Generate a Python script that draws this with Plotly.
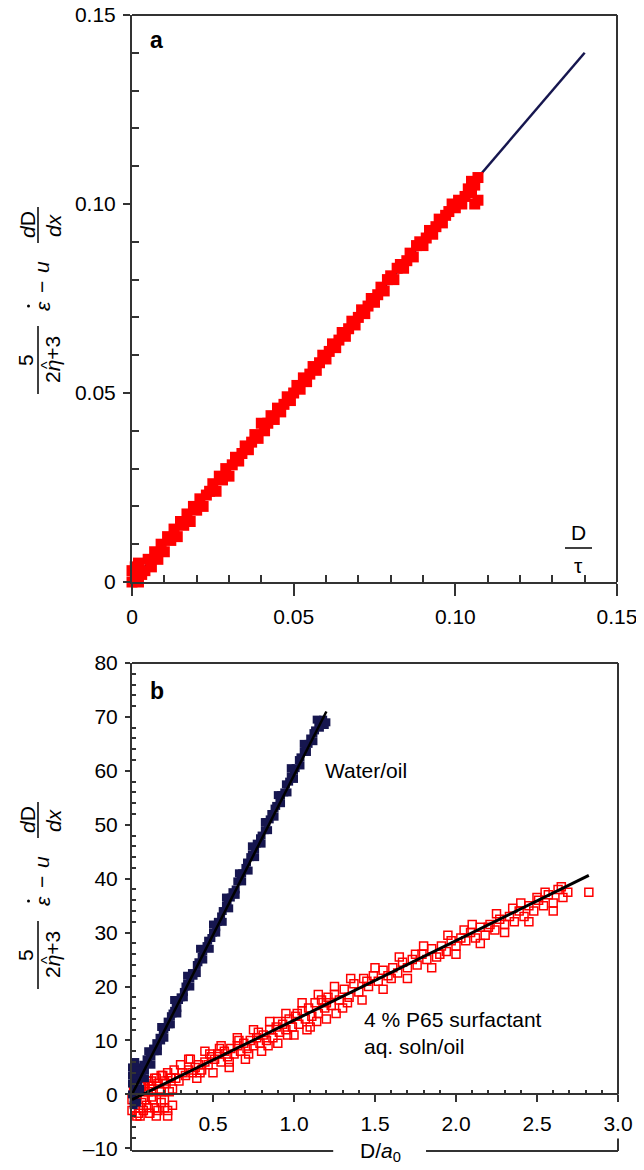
import plotly.graph_objects as go

# The page body has an 8px margin, so the figure is sized to fit inside it and all
# screen-pixel positions below are shifted by that offset.
OFF = 8
W, H = 644 - OFF, 1170 - OFF

# ---------------- Panel a data ----------------
a_fit_x = [0.0, 0.14]
a_fit_y = [0.0, 0.14]
a_red_x = [0.000, 0.000, 0.001, 0.002, 0.001, 0.003, 0.002, 0.004, 0.005, 0.006, 0.007, 0.008,
           0.009, 0.010, 0.011, 0.012, 0.013, 0.014, 0.015, 0.016, 0.017, 0.018, 0.019, 0.020,
           0.021, 0.022, 0.023, 0.024, 0.025, 0.026, 0.027, 0.028, 0.029, 0.030, 0.031, 0.032,
           0.033, 0.034, 0.035, 0.036, 0.037, 0.038, 0.039, 0.040, 0.041, 0.042, 0.043, 0.044,
           0.045, 0.046, 0.047, 0.048, 0.049, 0.050, 0.051, 0.052, 0.053, 0.054, 0.055, 0.056,
           0.057, 0.058, 0.059, 0.060, 0.061, 0.062, 0.063, 0.064, 0.065, 0.066, 0.067, 0.068,
           0.069, 0.070, 0.071, 0.072, 0.073, 0.074, 0.075, 0.076, 0.077, 0.078, 0.079, 0.080,
           0.081, 0.082, 0.083, 0.084, 0.085, 0.086, 0.087, 0.088, 0.089, 0.090, 0.091, 0.092,
           0.093, 0.094, 0.095, 0.096, 0.097, 0.098, 0.099, 0.100, 0.101, 0.102, 0.103, 0.104,
           0.105, 0.105, 0.106, 0.107, 0.107, 0.106]
a_red_y = [0.000, 0.003, 0.001, 0.000, 0.004, 0.002, 0.005, 0.003, 0.006, 0.004, 0.008, 0.006,
           0.010, 0.008, 0.012, 0.011, 0.014, 0.012, 0.016, 0.015, 0.018, 0.016, 0.020, 0.019,
           0.022, 0.020, 0.023, 0.024, 0.026, 0.024, 0.028, 0.027, 0.030, 0.028, 0.031, 0.033,
           0.032, 0.034, 0.036, 0.035, 0.037, 0.039, 0.038, 0.042, 0.040, 0.042, 0.044, 0.043,
           0.046, 0.045, 0.047, 0.049, 0.048, 0.050, 0.052, 0.051, 0.054, 0.053, 0.055, 0.057,
           0.056, 0.058, 0.060, 0.059, 0.061, 0.063, 0.062, 0.064, 0.066, 0.065, 0.067, 0.069,
           0.068, 0.070, 0.072, 0.071, 0.073, 0.075, 0.074, 0.076, 0.078, 0.077, 0.080, 0.081,
           0.080, 0.083, 0.084, 0.083, 0.085, 0.087, 0.086, 0.089, 0.090, 0.089, 0.091, 0.093,
           0.092, 0.094, 0.096, 0.095, 0.097, 0.098, 0.100, 0.099, 0.101, 0.100, 0.102, 0.104,
           0.103, 0.106, 0.105, 0.107, 0.101, 0.100]

a_xtick_vals = [0, 0.05, 0.10, 0.15]
a_xtick_text = ["0", "0.05", "0.10", "0.15"]
a_ytick_vals = [0, 0.05, 0.10, 0.15]
a_ytick_text = ["0", "0.05", "0.10", "0.15"]
a_minor_vals = [0.01, 0.02, 0.03, 0.04, 0.06, 0.07, 0.08, 0.09, 0.11, 0.12, 0.13, 0.14]

# ---------------- Panel b data ----------------
b_water_fit_x = [0.0, 1.2]
b_water_fit_y = [0.0, 71.0]
b_water_x = [0.00, 0.00, 0.01, 0.01, 0.02, 0.02, 0.03, 0.03, 0.04, 0.05, 0.06, 0.07, 0.08, 0.09,
             0.10, 0.11, 0.12, 0.13, 0.14, 0.15, 0.16, 0.17, 0.18, 0.19, 0.20, 0.21, 0.22, 0.23,
             0.24, 0.25, 0.26, 0.27, 0.28, 0.29, 0.30, 0.32, 0.33, 0.34, 0.36, 0.37, 0.38, 0.40,
             0.41, 0.43, 0.44, 0.46, 0.47, 0.49, 0.50, 0.52, 0.53, 0.55, 0.56, 0.58, 0.59, 0.61,
             0.62, 0.64, 0.65, 0.67, 0.68, 0.70, 0.71, 0.73, 0.74, 0.76, 0.77, 0.79, 0.80, 0.82,
             0.83, 0.85, 0.86, 0.88, 0.89, 0.91, 0.92, 0.94, 0.95, 0.97, 0.98, 1.00, 1.01, 1.03,
             1.04, 1.06, 1.07, 1.09, 1.10, 1.12, 1.13, 1.15, 1.16, 1.18, 1.19,
             0.05, 0.08, 0.12, 0.16, 0.20, 0.24, 0.28, 0.32, 0.36, 0.40, 0.44, 0.48, 0.52, 0.56,
             0.60, 0.64, 0.68, 0.72, 0.76, 0.80, 0.84, 0.88, 0.92, 0.96, 1.00, 1.04, 1.08, 1.12,
             1.16, 1.20,
             0.04, 0.10, 0.18, 0.26, 0.34, 0.42, 0.50, 0.58, 0.66, 0.74, 0.82, 0.90, 0.98, 1.06,
             1.14, 0.00, 0.01, 0.02, 0.00, 0.03]
b_water_y = [0.0, 2.0, 4.0, -1.0, 1.0, 3.0, 0.5, 5.0, 2.5, 4.0, 3.5, 5.5, 4.5, 6.5,
             6.0, 7.5, 7.0, 8.5, 8.0, 9.5, 9.0, 10.5, 10.0, 11.5, 12.0, 12.5, 13.5, 13.0,
             14.5, 15.0, 15.5, 16.5, 16.0, 17.5, 18.0, 19.0, 20.0, 20.5, 21.5, 22.5, 22.0, 24.0,
             24.5, 25.5, 26.5, 27.5, 28.5, 29.0, 30.0, 31.0, 32.0, 33.0, 34.0, 35.0, 35.5, 36.5,
             37.5, 38.0, 39.5, 40.0, 41.0, 42.0, 43.0, 44.0, 44.5, 45.5, 46.5, 47.5, 48.0, 49.0,
             50.5, 51.0, 52.0, 53.0, 53.5, 54.5, 55.5, 56.0, 57.5, 58.0, 59.0, 60.0, 60.5, 62.0,
             62.5, 63.5, 64.5, 65.0, 66.0, 67.0, 67.5, 68.5, 69.0, 69.5, 68.5,
             1.0, 3.0, 5.5, 8.0, 10.5, 13.0, 15.0, 18.0, 20.0, 22.5, 25.0, 27.0, 30.0, 32.0,
             34.5, 37.0, 39.5, 41.5, 44.0, 46.5, 49.0, 51.5, 54.0, 56.0, 58.5, 61.0, 63.5, 65.5,
             68.0, 69.0,
             4.5, 8.0, 12.5, 17.5, 22.0, 27.0, 31.5, 36.5, 41.0, 46.0, 50.5, 55.5, 60.5, 65.0,
             69.5, 5.0, -2.0, 6.0, 3.5, -1.5]

b_surf_fit_x = [0.0, 2.82]
b_surf_fit_y = [-1.0, 40.6]
b_surf_x = [0.00, 0.00, 0.01, 0.02, 0.03, 0.04, 0.05, 0.06, 0.07, 0.08, 0.09, 0.10, 0.11, 0.12,
            0.13, 0.14, 0.15, 0.16, 0.17, 0.18, 0.19, 0.20, 0.21, 0.22, 0.23, 0.24, 0.25,
            0.06, 0.08, 0.10, 0.12, 0.14, 0.16, 0.18, 0.20, 0.22, 0.24, 0.26,
            0.27, 0.29, 0.31, 0.33, 0.35, 0.37, 0.39, 0.41, 0.43, 0.45, 0.47, 0.49, 0.51, 0.53,
            0.55, 0.57, 0.59, 0.61, 0.63, 0.65, 0.67, 0.69, 0.71, 0.73, 0.75, 0.77, 0.79, 0.81,
            0.83, 0.85, 0.87, 0.89, 0.91, 0.93, 0.95, 0.97, 0.99, 1.01, 1.03, 1.05, 1.07, 1.09,
            1.11, 1.13, 1.15, 1.17, 1.19, 1.21, 1.23, 1.25, 1.28, 1.31, 1.34, 1.37, 1.40, 1.43,
            1.46, 1.49, 1.52, 1.55, 1.58, 1.61, 1.64, 1.67, 1.70, 1.73, 1.76, 1.79, 1.82, 1.85,
            1.88, 1.91, 1.94, 1.97, 2.00, 2.03, 2.06, 2.09, 2.12, 2.15, 2.18, 2.21, 2.24, 2.27,
            2.30, 2.33, 2.36, 2.39, 2.42, 2.45, 2.48, 2.51, 2.54, 2.57, 2.60, 2.63, 2.66, 2.69,
            2.82,
            0.30, 0.36, 0.42, 0.48, 0.54, 0.60, 0.66, 0.72, 0.78, 0.84, 0.90, 0.96, 1.02, 1.08,
            1.14, 1.20, 1.26, 1.33, 1.45, 1.60, 1.75, 1.90, 2.05, 2.20, 2.35, 2.50,
            0.35, 0.45, 0.55, 0.65, 0.75, 0.85, 0.95, 1.05, 1.15, 1.25, 1.35, 1.50, 1.65, 1.80,
            1.95, 2.10, 2.25, 2.40, 2.55, 2.65,
            0.40, 0.50, 0.60, 0.70, 0.80, 0.90, 1.00, 1.10, 1.20, 1.30, 1.42, 1.55, 1.70, 1.85,
            2.00, 2.15, 2.30, 2.45, 2.60,
            0.05, 0.10, 0.15, 0.20, 0.25, 0.12, 0.18, 0.22, 0.08, 0.03]
b_surf_y = [-3.0, -1.0, 1.0, -2.5, 0.0, -3.5, 2.0, -1.5, -3.0, 1.5, -2.0, 0.5, -3.5, 2.5,
            -1.0, -2.5, 3.0, -3.0, 1.0, -1.5, 3.5, -2.5, 2.0, -3.0, 0.5, 3.0, -2.0,
            1.5, 2.0, 2.5, 1.5, 3.0, 2.0, 3.5, 2.5, 4.0, 3.0, 4.5,
            3.0, 2.5, 4.0, 3.5, 4.5, 4.0, 5.0, 5.5, 4.5, 6.0, 5.5, 7.0, 6.5, 7.5,
            6.0, 8.0, 7.0, 8.5, 7.5, 9.0, 8.0, 9.5, 8.5, 10.0, 9.0, 10.5, 9.5, 11.0,
            10.0, 12.0, 10.5, 12.5, 11.5, 13.0, 12.0, 14.0, 12.5, 14.5, 13.0, 15.5, 14.0, 16.0,
            14.5, 17.0, 15.0, 17.5, 16.0, 18.0, 16.5, 18.5, 17.5, 19.5, 18.0, 20.5, 19.0, 21.5,
            20.0, 22.0, 21.0, 23.0, 22.0, 23.5, 22.5, 24.5, 23.5, 25.0, 24.0, 26.0, 25.0, 27.0,
            25.5, 27.5, 26.5, 28.5, 27.5, 29.0, 28.5, 30.0, 29.0, 31.0, 29.5, 31.5, 30.5, 32.5,
            31.5, 33.0, 32.0, 34.0, 33.0, 35.0, 34.0, 36.0, 35.0, 37.0, 35.5, 38.0, 36.5, 37.5,
            37.5,
            5.5, 6.5, 4.0, 7.5, 8.5, 6.0, 10.0, 7.5, 11.5, 9.0, 13.5, 11.0, 15.0, 12.0,
            13.5, 17.0, 15.0, 17.0, 21.0, 21.5, 26.0, 26.0, 30.5, 31.0, 34.5, 36.5,
            6.5, 8.0, 9.0, 10.5, 12.0, 13.5, 15.0, 17.0, 18.5, 20.0, 21.5, 23.5, 25.5, 27.5,
            29.5, 31.5, 33.5, 35.5, 37.5, 38.5,
            3.0, 4.0, 5.0, 6.5, 8.0, 9.5, 11.0, 12.5, 14.0, 16.0, 17.5, 19.5, 21.5, 23.5,
            26.0, 28.0, 30.0, 32.0, 34.0,
            -4.0, -2.5, -4.0, -1.0, 1.0, -0.5, 0.5, -4.0, -1.0, -4.0]

b_xtick_vals = [0.5, 1.0, 1.5, 2.0, 2.5, 3.0]
b_xtick_text = ["0.5", "1.0", "1.5", "2.0", "2.5", "3.0"]
b_ytick_vals = [-10, 0, 10, 20, 30, 40, 50, 60, 70, 80]
b_ytick_text = ["\u201310", "0", "10", "20", "30", "40", "50", "60", "70", "80"]
b_xminor_vals = [round(0.1 * i, 1) for i in range(1, 30) if i % 5 != 0]
b_yminor_vals = [v for v in range(-10, 81, 2) if v % 10 != 0]

# ---------------- layout geometry ----------------
FONT = "Liberation Sans, Arial, sans-serif"
AXC = "#333333"
RED = "#ff0000"
NAVY = "#16164f"
FS = 21


def px(x):
    return (x - OFF) / W


def py(y):
    return 1 - (y - OFF) / H


a_xdom = [px(132), px(617)]
a_ydom = [py(582), py(15)]
b_xdom = [px(132), px(618)]
b_ydom = [py(1151), py(663)]
a_range = [0, 0.15]
b_xrange = [0, 3.0]
b_yrange = [-10.5, 80]
b_xaxis_pos = b_ydom[0] + (0 - b_yrange[0]) / (b_yrange[1] - b_yrange[0]) * (b_ydom[1] - b_ydom[0])

fig = go.Figure()

# Panel a traces
fig.add_trace(go.Scatter(x=a_fit_x, y=a_fit_y, mode="lines",
                         line=dict(color=NAVY, width=2.5), xaxis="x", yaxis="y"))
fig.add_trace(go.Scatter(x=a_red_x, y=a_red_y, mode="markers",
                         marker=dict(symbol="square", size=11, color=RED, line=dict(width=0)),
                         cliponaxis=False, xaxis="x", yaxis="y"))

# Panel b traces
fig.add_trace(go.Scatter(x=b_surf_x, y=b_surf_y, mode="markers",
                         marker=dict(symbol="square-open", size=8, color=RED, line=dict(width=1.5, color=RED)),
                         cliponaxis=False, xaxis="x2", yaxis="y2"))
fig.add_trace(go.Scatter(x=b_water_x, y=b_water_y, mode="markers",
                         marker=dict(symbol="square", size=8, color=NAVY, line=dict(width=0)),
                         cliponaxis=False, xaxis="x2", yaxis="y2"))
fig.add_trace(go.Scatter(x=b_surf_fit_x, y=b_surf_fit_y, mode="lines",
                         line=dict(color="black", width=3), xaxis="x2", yaxis="y2"))
fig.add_trace(go.Scatter(x=b_water_fit_x, y=b_water_fit_y, mode="lines",
                         line=dict(color="black", width=2.5), xaxis="x2", yaxis="y2"))

# empty traces so the overlay (minor-tick) axes get drawn
fig.add_trace(go.Scatter(x=[], y=[], xaxis="x3", yaxis="y3", hoverinfo="skip"))
fig.add_trace(go.Scatter(x=[], y=[], xaxis="x4", yaxis="y4", hoverinfo="skip"))

tickfont = dict(family=FONT, size=FS, color="black")
common = dict(showline=True, linecolor=AXC, linewidth=2, showgrid=False, zeroline=False,
              tickmode="array", tickwidth=2, tickcolor=AXC, tickfont=tickfont, automargin=False,
              ticklabeloverflow="allow")
minor_common = dict(showline=False, showgrid=False, zeroline=False, tickmode="array",
                    ticks="inside", tickwidth=1.5, tickcolor=AXC, showticklabels=False,
                    automargin=False)

fig.update_layout(
    width=W, height=H,
    margin=dict(l=0, r=0, t=0, b=0, pad=0, autoexpand=False),
    paper_bgcolor="white", plot_bgcolor="white",
    showlegend=False,
    font=dict(family=FONT, size=FS, color="black"),
    xaxis=dict(domain=a_xdom, range=a_range, anchor="y",
               tickvals=a_xtick_vals, ticktext=a_xtick_text,
               ticks="outside", ticklen=12, ticklabelstandoff=3, **common),
    yaxis=dict(domain=a_ydom, range=a_range, anchor="x",
               tickvals=a_ytick_vals, ticktext=a_ytick_text,
               ticks="outside", ticklen=7, ticklabelstandoff=3, **common),
    xaxis3=dict(overlaying="x", range=a_range, anchor="y3", tickvals=a_minor_vals,
                ticklen=7, **minor_common),
    yaxis3=dict(overlaying="y", range=a_range, anchor="x3", tickvals=a_minor_vals,
                ticklen=7, **minor_common),
    xaxis2=dict(domain=b_xdom, range=b_xrange, anchor="free", position=b_xaxis_pos,
                tickvals=b_xtick_vals, ticktext=b_xtick_text,
                ticks="outside", ticklen=7, ticklabelstandoff=3, **common),
    yaxis2=dict(domain=b_ydom, range=b_yrange, anchor="x2",
                tickvals=b_ytick_vals, ticktext=b_ytick_text,
                ticks="outside", ticklen=5, ticklabelstandoff=3, **common),
    xaxis4=dict(overlaying="x2", range=b_xrange, anchor="free", position=b_xaxis_pos,
                tickvals=b_xminor_vals, ticklen=4, **minor_common),
    yaxis4=dict(overlaying="y2", range=b_yrange, anchor="x4", tickvals=b_yminor_vals,
                ticklen=4, **minor_common),
)

shapes = []
ln = dict(color=AXC, width=2)
# Panel a frame (top and right)
shapes.append(dict(type="line", xref="x domain", yref="y domain", x0=0, x1=1, y0=1, y1=1, line=ln))
shapes.append(dict(type="line", xref="x domain", yref="y domain", x0=1, x1=1, y0=0, y1=1, line=ln))
# Panel b frame (top, broken right side, broken bottom)
shapes.append(dict(type="line", xref="x2 domain", yref="y2 domain", x0=0, x1=1, y0=1, y1=1, line=ln))
shapes.append(dict(type="line", xref="x2 domain", yref="y2", x0=1, x1=1, y0=0, y1=80, line=ln))
shapes.append(dict(type="line", xref="x2 domain", yref="y2", x0=1, x1=1, y0=-8.2, y1=-10.5, line=ln))
shapes.append(dict(type="line", xref="x2 domain", yref="y2 domain", x0=0, x1=0.414, y0=0, y1=0, line=ln))
shapes.append(dict(type="line", xref="x2 domain", yref="y2 domain", x0=0.605, x1=1, y0=0, y1=0, line=ln))

annotations = []


def ann(text, x, y, size=FS, angle=0, **kw):
    d = dict(text=text, x=px(x), y=py(y), xref="paper", yref="paper", showarrow=False,
             xanchor="center", yanchor="middle", textangle=angle,
             font=dict(family=FONT, size=size, color="black"))
    d.update(kw)
    annotations.append(d)


def frac_bar_vertical(x, y0, y1):
    shapes.append(dict(type="line", xref="paper", yref="paper", x0=px(x), x1=px(x),
                       y0=py(y0), y1=py(y1), line=dict(color="black", width=1.5)))


def y_label(dy):
    ann("5", 25, 360 + dy, angle=-90)
    frac_bar_vertical(38, 326 + dy, 394 + dy)
    ann("2<i>\u03b7</i>+3", 52, 360 + dy, angle=-90)
    ann("^", 47, 365 + dy, angle=-90, size=16)
    ann("<i>\u03b5</i>", 42, 306 + dy, angle=-90)
    shapes.append(dict(type="circle", xref="paper", yref="paper",
                       x0=px(27), x1=px(30), y0=py(304.5 + dy), y1=py(307.5 + dy),
                       fillcolor="black", line=dict(width=0)))
    ann("\u2212", 41, 287 + dy, angle=-90)
    ann("<i>u</i>", 41, 267 + dy, angle=-90)
    ann("<i>d</i>D", 27, 225 + dy, angle=-90)
    frac_bar_vertical(38, 207 + dy, 243 + dy)
    ann("<i>dx</i>", 53, 225 + dy, angle=-90)


y_label(0)
y_label(595)

# panel labels
ann("<b>a</b>", 156, 40, size=23)
ann("<b>b</b>", 157, 691, size=23)

# D / tau fraction in panel a
ann("D", 578, 532)
shapes.append(dict(type="line", xref="paper", yref="paper", x0=px(565), x1=px(592),
                   y0=py(548), y1=py(548), line=dict(color="black", width=1.5)))
ann("\u03c4", 578, 565)

# panel b texts
annotations.append(dict(text="Water/oil", x=1.18, y=60, xref="x2", yref="y2", showarrow=False,
                        xanchor="left", yanchor="middle", font=dict(family=FONT, size=FS, color="black")))
annotations.append(dict(text="4 % P65 surfactant<br>aq. soln/oil", x=1.42, y=11.4, xref="x2", yref="y2",
                        showarrow=False, xanchor="left", yanchor="middle", align="left",
                        font=dict(family=FONT, size=FS, color="black")))
ann("D/<i>a</i><sub>0</sub>", 380, 1152)

fig.update_layout(shapes=shapes, annotations=annotations)

fig.write_html("out.html")
